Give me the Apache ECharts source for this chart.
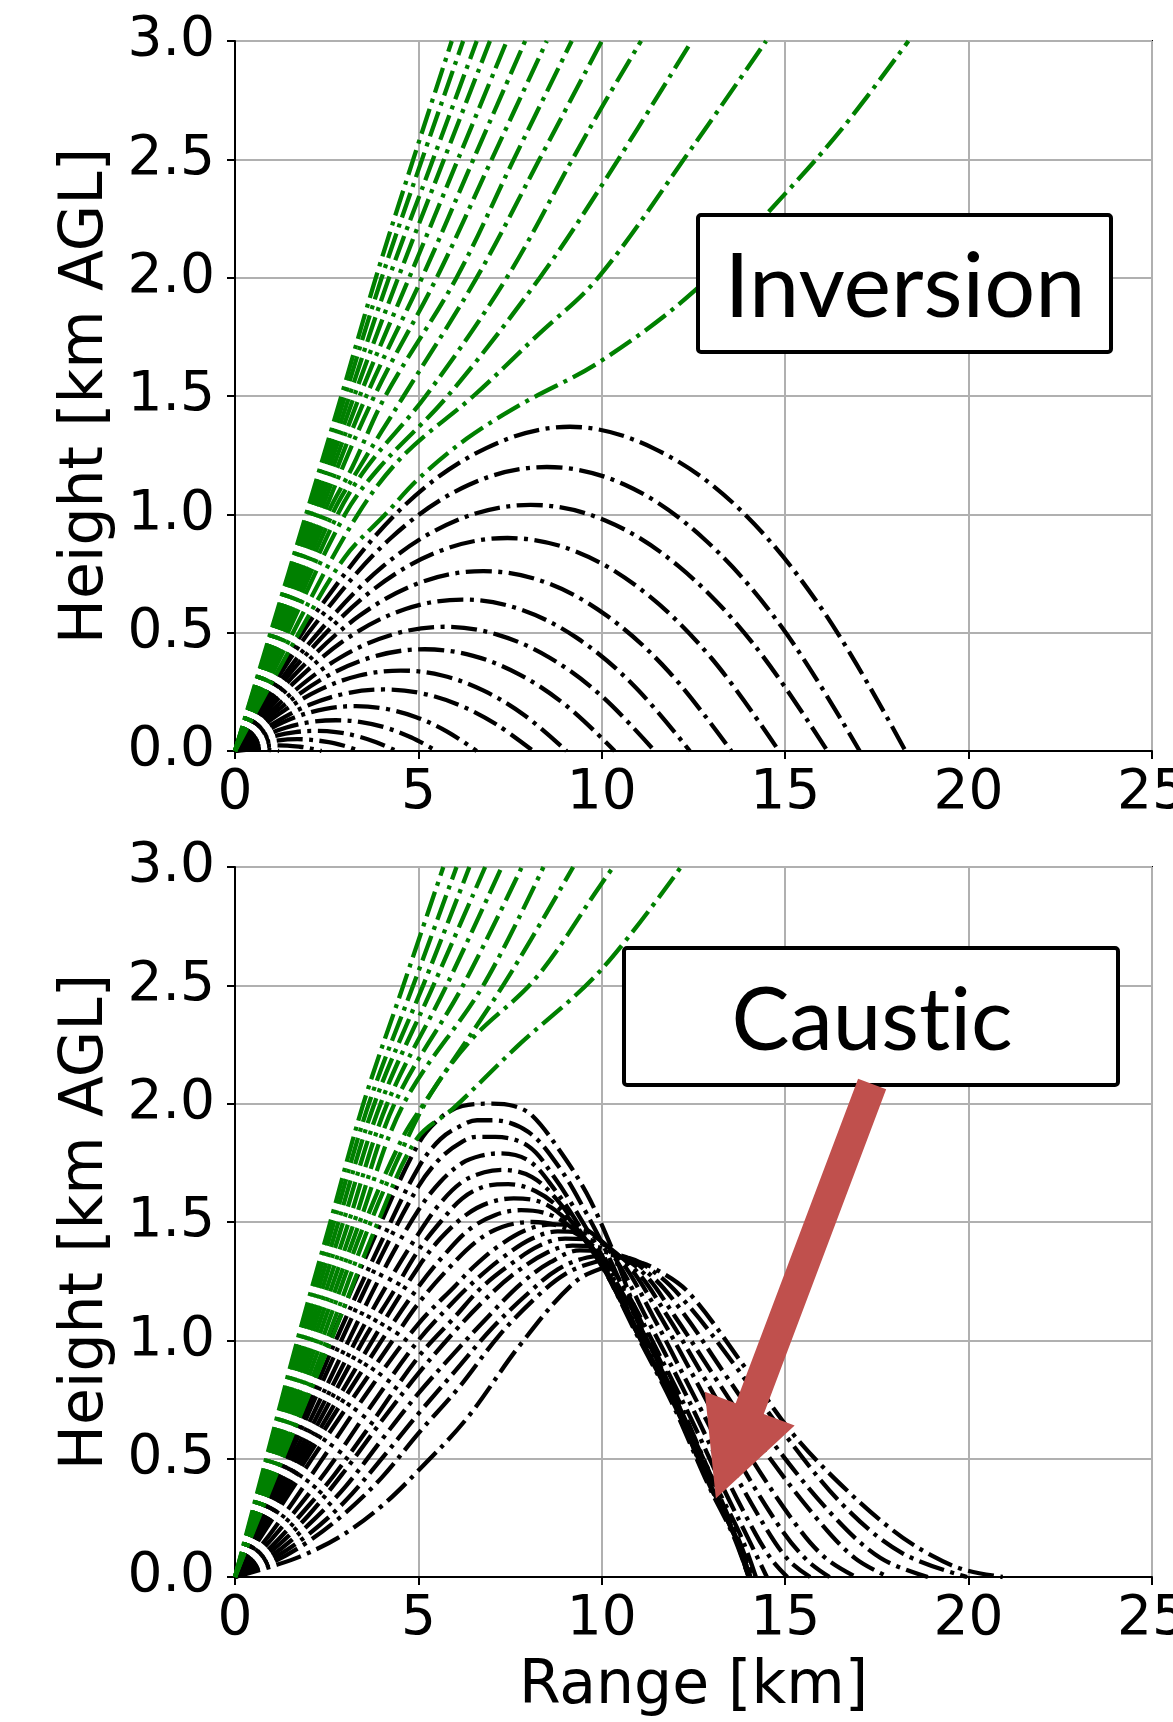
<!DOCTYPE html>
<html>
<head>
<meta charset="utf-8">
<title>Ray paths: Inversion / Caustic</title>
<script src="https://cdn.jsdelivr.net/npm/echarts@6/dist/echarts.min.js"></script>
<style>
  html, body { margin: 0; padding: 0; background: #fff; }
  #chart { width: 1173px; height: 1722px; }
</style>
</head>
<body>
<div id="chart"></div>
<script>
// axis ranges
var xRange = [0, 25];
var yRange = [0, 3];
var xStep = 5;
var yStep = 0.5;

// ---- top panel (Inversion): rays that leave the top of the plot (green)
var invEscape = [
  [[0,0],[0.97,0.5],[1.94,1.0],[2.9,1.5],[3.84,2.0],[4.86,2.5],[5.91,3.0]],
  [[0,0],[1.0,0.5],[2.0,1.0],[3.0,1.5],[4.0,2.0],[5.1,2.5],[6.22,3.0]],
  [[0,0],[1.03,0.5],[2.07,1.0],[3.12,1.5],[4.2,2.0],[5.4,2.5],[6.59,3.0]],
  [[0,0],[1.07,0.5],[2.14,1.0],[3.25,1.5],[4.45,2.0],[5.7,2.5],[6.95,3.0]],
  [[0,0],[1.1,0.5],[2.22,1.0],[3.4,1.5],[4.75,2.0],[6.08,2.5],[7.41,3.0]],
  [[0,0],[1.14,0.5],[2.31,1.0],[3.58,1.5],[5.1,2.0],[6.5,2.5],[7.91,3.0]],
  [[0,0],[1.19,0.5],[2.41,1.0],[3.8,1.5],[5.5,2.0],[7.0,2.5],[8.5,3.0]],
  [[0,0],[1.24,0.5],[2.52,1.0],[3.2,1.2],[4.1,1.5],[6.04,2.0],[7.6,2.5],[9.18,3.0]],
  [[0,0],[1.3,0.5],[2.65,1.0],[3.4,1.2],[4.6,1.5],[6.59,2.0],[8.3,2.5],[10.0,3.0]],
  [[0,0],[1.36,0.5],[2.8,1.0],[3.6,1.2],[5.2,1.5],[7.41,2.0],[9.2,2.5],[10.0,2.72],[11.07,3.0]],
  [[0,0],[1.44,0.5],[3.0,1.0],[3.95,1.2],[5.8,1.5],[8.31,2.0],[10.0,2.39],[12.45,3.0]],
  [[0,0],[1.58,0.5],[3.35,1.0],[4.6,1.25],[6.5,1.5],[8.2,1.75],[9.9,2.0],[12.44,2.545],[14.48,3.0]],
  [[0,0],[1.75,0.5],[3.0,0.82],[4.1,1.0],[5.0,1.15],[6.32,1.32],[7.86,1.47],[9.95,1.645],[12.54,1.946],[14.5,2.27],[16.5,2.62],[18.36,3.0]]
];

// ---- top panel: trapped rays that come back to the ground (black)
var invTrapped = [
  [[0,0],[0.91,0.26],[2.28,0.6],[4.57,1.03],[6.85,1.28],[9.13,1.37],[11.4,1.28],[13.7,1.03],[16.0,0.6],[18.28,0]],
  [[0,0],[0.85,0.23],[2.13,0.525],[4.25,0.9],[6.38,1.125],[8.5,1.2],[10.63,1.125],[12.76,0.9],[14.9,0.525],[17.03,0]],
  [[0,0],[0.81,0.2],[2.02,0.455],[4.03,0.78],[6.05,0.975],[8.06,1.04],[10.08,0.975],[12.1,0.78],[14.12,0.455],[16.15,0]],
  [[0,0],[0.74,0.17],[1.86,0.394],[3.71,0.675],[5.57,0.844],[7.43,0.9],[9.28,0.844],[11.13,0.675],[12.98,0.394],[14.83,0]],
  [[0,0],[0.68,0.144],[1.69,0.333],[3.38,0.57],[5.07,0.713],[6.77,0.76],[8.46,0.713],[10.15,0.57],[11.84,0.333],[13.53,0]],
  [[0,0],[0.62,0.122],[1.55,0.28],[3.1,0.48],[4.65,0.6],[6.2,0.64],[7.75,0.6],[9.3,0.48],[10.85,0.28],[12.4,0]],
  [[0,0],[0.57,0.1],[1.43,0.23],[2.86,0.394],[4.29,0.492],[5.72,0.525],[7.15,0.492],[8.58,0.394],[10.01,0.23],[11.44,0]],
  [[0,0],[0.52,0.082],[1.29,0.188],[2.59,0.323],[3.88,0.403],[5.17,0.43],[6.47,0.403],[7.76,0.323],[9.06,0.188],[10.35,0]],
  [[0,0],[0.45,0.065],[1.13,0.149],[2.26,0.255],[3.39,0.319],[4.52,0.34],[5.65,0.319],[6.78,0.255],[7.91,0.149],[9.04,0]],
  [[0,0],[0.41,0.049],[1.02,0.114],[2.03,0.195],[3.05,0.244],[4.06,0.26],[5.08,0.244],[6.1,0.195],[7.11,0.114],[8.13,0]],
  [[0,0],[0.33,0.036],[0.82,0.083],[1.65,0.143],[2.47,0.178],[3.3,0.19],[4.12,0.178],[4.94,0.143],[5.77,0.083],[6.59,0]],
  [[0,0],[0.69,0.057],[1.38,0.098],[2.06,0.122],[2.75,0.13],[3.44,0.122],[4.13,0.098],[4.81,0.057],[5.5,0]],
  [[0,0],[0.55,0.037],[1.1,0.064],[1.65,0.08],[2.2,0.085],[2.75,0.08],[3.3,0.064],[3.85,0.037],[4.4,0]],
  [[0,0],[0.43,0.022],[0.85,0.038],[1.7,0.05],[2.55,0.038],[2.98,0.022],[3.4,0]],
  [[0,0],[0.3,0.0105],[0.59,0.018],[1.18,0.024],[1.77,0.018],[2.06,0.0105],[2.36,0]],
  [[0,0],[0.3,0.0045],[0.6,0.006],[0.9,0.0045],[1.2,0]]
];

// ---- bottom panel (Caustic): escaping rays (green)
var causEscape = [
  [[0,0],[0.85,0.5],[1.7,1.0],[2.6,1.5],[3.5,2.0],[4.59,2.5],[5.68,3.0]],
  [[0,0],[0.89,0.5],[1.78,1.0],[2.7,1.5],[3.65,2.0],[4.86,2.5],[6.04,3.0]],
  [[0,0],[0.93,0.5],[1.86,1.0],[2.82,1.5],[3.8,2.0],[5.13,2.5],[6.39,3.0]],
  [[0,0],[0.97,0.5],[1.95,1.0],[2.95,1.5],[3.97,2.0],[5.41,2.5],[6.82,3.0]],
  [[0,0],[1.02,0.5],[2.04,1.0],[3.1,1.5],[4.15,2.0],[5.77,2.5],[7.27,3.0]],
  [[0,0],[1.07,0.5],[2.14,1.0],[3.25,1.5],[4.35,2.0],[6.22,2.5],[7.82,3.0]],
  [[0,0],[1.12,0.5],[2.25,1.0],[3.4,1.5],[4.6,2.0],[6.77,2.5],[8.41,3.0]],
  [[0,0],[1.18,0.5],[2.37,1.0],[3.55,1.5],[4.55,1.85],[5.15,2.0],[7.31,2.5],[9.22,3.0]],
  [[0,0],[1.25,0.5],[2.5,1.0],[3.7,1.5],[4.6,1.82],[5.41,2.06],[6.5,2.28],[8.2,2.53],[9.95,2.92],[10.31,3.0]],
  [[0,0],[1.3,0.5],[2.62,1.0],[3.9,1.5],[4.95,1.85],[5.95,1.98],[7.68,2.24],[9.95,2.56],[12.16,3.0]]
];

// ---- bottom panel: trapped rays (black), lowest launch angle first
var causTrapped = [
  [[0,0],[1,0.045],[1.77,0.086],[2.86,0.17],[4,0.3],[5,0.45],[6.32,0.67],[7.77,0.98],[9.22,1.24],[10.1,1.31],[10.9,1.33],[11.7,1.28],[12.44,1.19],[13.93,0.88],[15.13,0.62],[16.32,0.42],[17.91,0.2],[19.0,0.09],[19.9,0.03],[20.93,0]],
  [[0,0],[1,0.06],[2,0.15],[3,0.27],[4,0.42],[5,0.607],[6.1,0.8],[7.2,1.02],[8.2,1.18],[9.0,1.28],[9.8,1.33],[10.6,1.35],[11.5,1.28],[12.4,1.14],[13.6,0.9],[15.0,0.6],[16.6,0.3],[18.2,0.1],[19.96,0]],
  [[0,0],[1,0.075],[2,0.18],[3,0.32],[4,0.5],[5,0.69],[6,0.87],[7,1.05],[8,1.2],[8.8,1.3],[9.6,1.35],[10.4,1.36],[11.3,1.28],[12.2,1.12],[13.3,0.87],[14.7,0.56],[16.3,0.26],[17.6,0.08],[18.89,0]],
  [[0,0],[1,0.09],[2,0.22],[3,0.38],[4,0.58],[5,0.776],[6,0.95],[6.9,1.1],[7.8,1.24],[8.6,1.33],[9.4,1.38],[10.2,1.37],[11.1,1.29],[12.0,1.1],[13.1,0.84],[14.4,0.54],[15.9,0.24],[16.9,0.08],[17.82,0]],
  [[0,0],[1,0.11],[2,0.26],[3,0.45],[4,0.66],[5,0.86],[6,1.04],[6.8,1.17],[7.6,1.28],[8.5,1.37],[9.2,1.4],[10.0,1.39],[10.9,1.3],[11.8,1.1],[12.8,0.84],[14.0,0.52],[15.3,0.22],[16.1,0.08],[16.93,0]],
  [[0,0],[1,0.13],[2,0.3],[2.7,0.43],[3.5,0.6],[5,0.93],[6,1.1],[6.7,1.22],[7.5,1.32],[8.3,1.4],[9.0,1.43],[9.8,1.42],[10.7,1.32],[11.6,1.1],[12.6,0.82],[13.7,0.5],[14.9,0.2],[15.6,0.07],[16.21,0]],
  [[0,0],[1,0.16],[2.5,0.45],[3.7,0.72],[5,1.0],[6,1.17],[6.6,1.26],[7.3,1.35],[8.1,1.43],[8.8,1.46],[9.6,1.45],[10.5,1.34],[11.4,1.1],[12.4,0.8],[13.4,0.5],[14.5,0.2],[15.1,0.07],[15.68,0]],
  [[0,0],[1,0.19],[2.3,0.48],[3.7,0.8],[5,1.07],[6,1.23],[6.5,1.31],[7.2,1.4],[8,1.47],[8.7,1.49],[9.4,1.48],[10.3,1.36],[11.2,1.1],[12.2,0.8],[13.2,0.48],[14.2,0.18],[14.65,0.07],[15.06,0]],
  [[0,0],[2.1,0.5],[4.3,1.0],[5,1.156],[5.8,1.3],[6.6,1.42],[7.3,1.48],[8.1,1.5],[8.9,1.48],[9.6,1.42],[10.2,1.32],[10.8,1.17],[11.5,0.96],[12.4,0.68],[13.3,0.38],[14.0,0.16],[14.5,0]],
  [[0,0],[1.95,0.5],[4.0,1.0],[5,1.226],[5.7,1.36],[6.4,1.47],[7.1,1.53],[7.8,1.55],[8.6,1.53],[9.3,1.46],[10.0,1.34],[10.6,1.19],[11.3,0.98],[12.2,0.69],[13.1,0.39],[13.8,0.17],[14.2,0]],
  [[0,0],[1.85,0.5],[3.75,1.0],[5,1.31],[5.6,1.43],[6.3,1.53],[6.9,1.58],[7.6,1.6],[8.4,1.58],[9.1,1.5],[9.8,1.37],[10.4,1.22],[11.1,1.0],[12.1,0.7],[13.0,0.39],[13.7,0.17],[14.1,0]],
  [[0,0],[1.75,0.5],[3.5,1.0],[4.3,1.2],[5,1.38],[5.6,1.5],[6.2,1.6],[6.8,1.65],[7.45,1.66],[8.2,1.63],[8.9,1.55],[9.6,1.41],[10.2,1.26],[11.0,1.02],[12.0,0.72],[12.95,0.39],[13.65,0.17],[14.05,0]],
  [[0,0],[1.65,0.5],[3.3,1.0],[4.2,1.25],[5,1.45],[5.6,1.58],[6.2,1.67],[6.8,1.71],[7.3,1.72],[8.1,1.69],[8.8,1.59],[9.5,1.44],[10.1,1.29],[10.9,1.04],[11.9,0.74],[12.9,0.39],[13.6,0.17],[14.0,0]],
  [[0,0],[1.55,0.5],[3.1,1.0],[4.1,1.31],[5,1.55],[5.6,1.67],[6.2,1.75],[6.7,1.78],[7.2,1.79],[8.0,1.76],[8.7,1.64],[9.4,1.48],[10.0,1.32],[10.9,1.05],[11.9,0.76],[12.9,0.4],[13.6,0.18],[14.0,0]],
  [[0,0],[1.45,0.5],[2.9,1.0],[4.0,1.36],[5,1.65],[5.6,1.77],[6.2,1.84],[6.6,1.86],[7.1,1.86],[8.0,1.82],[8.7,1.69],[9.4,1.52],[10.1,1.33],[10.9,1.07],[11.9,0.77],[12.9,0.41],[13.6,0.18],[14.0,0]],
  [[0,0],[1.4,0.5],[2.75,1.0],[4.0,1.42],[5,1.73],[5.6,1.85],[6.2,1.91],[6.6,1.93],[7.05,1.93],[8.0,1.88],[8.8,1.74],[9.5,1.56],[10.2,1.35],[10.95,1.09],[11.94,0.78],[12.9,0.42],[13.6,0.19],[14.05,0]],
  [[0,0],[1.3,0.5],[2.6,1.0],[3.9,1.47],[5,1.83],[5.6,1.94],[6.2,1.99],[7.0,2.0],[7.6,1.99],[8.1,1.95],[8.86,1.8],[9.59,1.62],[10.3,1.38],[10.95,1.12],[11.94,0.8],[12.94,0.44],[13.6,0.2],[14.1,0]]
];

// annotation arrow in data coords of the lower panel: tail -> tip
var arrowTail = [17.37, 2.083];
var arrowTip = [13.11, 0.332];

var GREEN = '#008000';
var TICK_FONT = 'DejaVu Sans';

var chart = echarts.init(document.getElementById('chart'), null, { renderer: 'canvas' });

function makeRays(rays, color, gi) {
  return rays.map(function (pts) {
    return {
      type: 'line',
      xAxisIndex: gi,
      yAxisIndex: gi,
      data: pts,
      showSymbol: false,
      symbol: 'none',
      smooth: 0.35,
      clip: true,
      silent: true,
      animation: false,
      emphasis: { disabled: true },
      lineStyle: { color: color, width: 4.3, type: [26, 6.5, 4, 6.5], cap: 'butt', join: 'round' }
    };
  });
}

function xAxisCfg(gi, name) {
  return {
    type: 'value', gridIndex: gi, min: xRange[0], max: xRange[1], interval: xStep,
    name: name, nameLocation: 'middle', nameGap: 80,
    nameTextStyle: { color: '#000', fontSize: 60, fontFamily: TICK_FONT },
    axisLine: { show: true, onZero: false, lineStyle: { color: '#000', width: 2 } },
    axisTick: { show: true, inside: false, length: 8, lineStyle: { color: '#000', width: 2 } },
    axisLabel: { color: '#000', fontSize: 55, fontFamily: TICK_FONT, margin: 15 },
    splitLine: { show: true, lineStyle: { color: '#b0b0b0', width: 2 } }
  };
}

function yAxisCfg(gi) {
  return {
    type: 'value', gridIndex: gi, min: yRange[0], max: yRange[1], interval: yStep,
    name: 'Height [km AGL]', nameLocation: 'middle', nameGap: 117,
    nameTextStyle: { color: '#000', fontSize: 60, fontFamily: TICK_FONT },
    axisLine: { show: true, onZero: false, lineStyle: { color: '#000', width: 2 } },
    axisTick: { show: true, inside: false, length: 8, lineStyle: { color: '#000', width: 2 } },
    axisLabel: { color: '#000', fontSize: 55, fontFamily: TICK_FONT, margin: 20,
      formatter: function (v) { return v.toFixed(1); } },
    splitLine: { show: true, lineStyle: { color: '#b0b0b0', width: 2 } }
  };
}

var series = []
  .concat(makeRays(invTrapped, '#000', 0))
  .concat(makeRays(invEscape, GREEN, 0))
  .concat(makeRays(causTrapped, '#000', 1))
  .concat(makeRays(causEscape, GREEN, 1));

chart.setOption({
  backgroundColor: '#fff',
  animation: false,
  grid: [
    { left: 235, top: 41, width: 917, height: 710, show: true, borderColor: '#000', borderWidth: 2,
      backgroundColor: 'transparent', containLabel: false, outerBoundsMode: 'none' },
    { left: 235, top: 867, width: 917, height: 710, show: true, borderColor: '#000', borderWidth: 2,
      backgroundColor: 'transparent', containLabel: false, outerBoundsMode: 'none' }
  ],
  xAxis: [xAxisCfg(0, ''), xAxisCfg(1, 'Range [km]')],
  yAxis: [yAxisCfg(0), yAxisCfg(1)],
  series: series
});

// text boxes and the arrow, placed after the axes exist
function arrowPoints(tail, tip) {
  var dx = tip[0] - tail[0], dy = tip[1] - tail[1];
  var len = Math.sqrt(dx * dx + dy * dy);
  var ux = dx / len, uy = dy / len;
  var nx = -uy, ny = ux;
  var sh = 15, hh = 48, hl = 96;
  var bx = tip[0] - ux * hl, by = tip[1] - uy * hl;
  return [
    [tail[0] + nx * sh, tail[1] + ny * sh],
    [bx + nx * sh, by + ny * sh],
    [bx + nx * hh, by + ny * hh],
    [tip[0], tip[1]],
    [bx - nx * hh, by - ny * hh],
    [bx - nx * sh, by - ny * sh],
    [tail[0] - nx * sh, tail[1] - ny * sh]
  ];
}

var pTail = chart.convertToPixel({ gridIndex: 1 }, arrowTail);
var pTip = chart.convertToPixel({ gridIndex: 1 }, arrowTip);

chart.setOption({
  graphic: [
    { type: 'rect', z: 100, shape: { x: 698, y: 215, width: 413, height: 137, r: 3 },
      style: { fill: '#fff', stroke: '#000', lineWidth: 4 } },
    { type: 'text', z: 101, x: 905, y: 288,
      style: { text: 'Inversion', fontSize: 90, fontFamily: 'Lato', fill: '#000', align: 'center', verticalAlign: 'middle' } },
    { type: 'rect', z: 100, shape: { x: 624, y: 948, width: 494, height: 137, r: 3 },
      style: { fill: '#fff', stroke: '#000', lineWidth: 4 } },
    { type: 'text', z: 101, x: 872, y: 1022,
      // zero-width non-joiner keeps the "t" and "i" as separate glyphs
      style: { text: 'Caust\u200Cic', fontSize: 87, fontFamily: 'Lato', fill: '#000', align: 'center', verticalAlign: 'middle' } },
    { type: 'polygon', z: 102, shape: { points: arrowPoints(pTail, pTip) },
      style: { fill: '#C0504D' } }
  ]
});
</script>
</body>
</html>
